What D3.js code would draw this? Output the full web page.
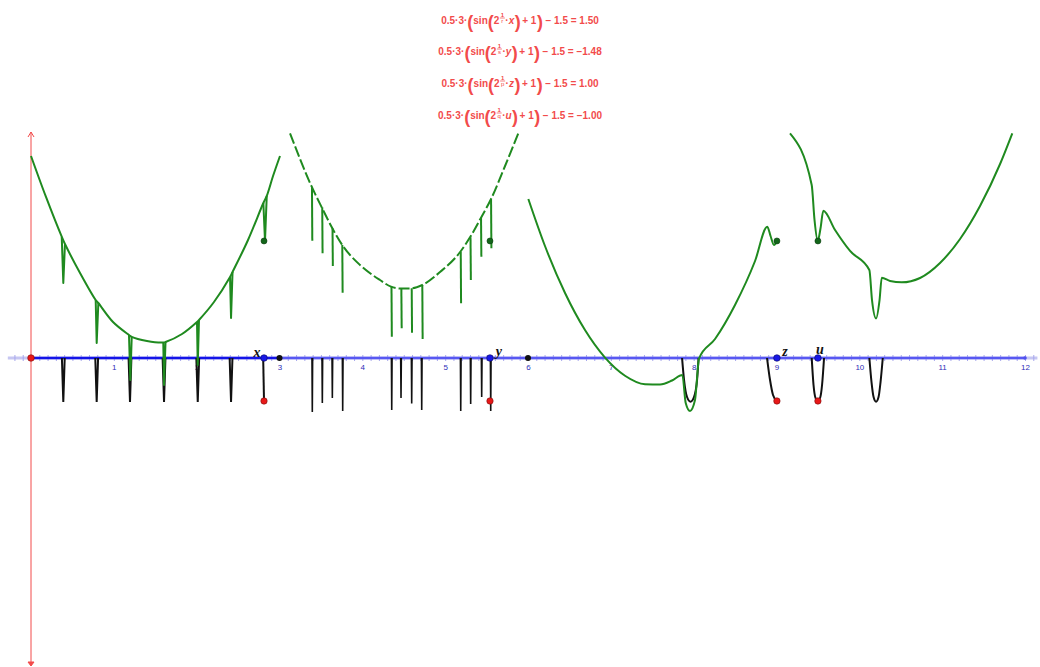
<!DOCTYPE html>
<html>
<head>
<meta charset="utf-8">
<script src="https://cdn.jsdelivr.net/npm/d3@7"></script>
<style>
  body { margin: 0; background: #fff; }
  svg { display: block; }
</style>
</head>
<body>
<svg id="chart" width="1040" height="667"></svg>
<script>
"use strict";

//// data (axis units)
const tickLabels = [1, 2, 3, 4, 5, 6, 7, 8, 9, 10, 11, 12];
const eqNames = ["x", "y", "z", "u"];
const eqDenoms = ["r", "s", "p", "q"];
const eqValues = ["1.50", "\u22121.48", "1.00", "\u22121.00"];

const pointX = [2.813, 5.541, 9.005, 9.500];   // x, y, z, u on the axis
const redY = -0.519;
const greenDotY = 1.413;
const blackPointX = [3, 6];

// green curve, first piece: smooth base + narrow spikes
const greenA = [
    [0, 2.439], [0.181, 1.944], [0.371, 1.464], [0.410, 1.376], [0.592, 1.026],
    [0.781, 0.700], [0.813, 0.664], [0.990, 0.435], [1.183, 0.278], [1.216, 0.254],
    [1.400, 0.205], [1.597, 0.187], [1.624, 0.193], [1.823, 0.290], [2.004, 0.435],
    [2.028, 0.459], [2.209, 0.676], [2.403, 0.978], [2.433, 1.038], [2.620, 1.425],
    [2.805, 1.871], [2.846, 1.956], [2.922, 2.197], [3.006, 2.439]
];
const greenASpikes = [
    [[0.371, 1.464], [0.390, 0.905], [0.410, 1.376]],
    [[0.781, 0.700], [0.793, 0.181], [0.813, 0.664]],
    [[1.183, 0.278], [1.199, -0.266], [1.216, 0.254]],
    [[1.597, 0.187], [1.606, -0.326], [1.624, 0.193]],
    [[2.004, 0.435], [2.013, -0.085], [2.028, 0.459]],
    [[2.403, 0.978], [2.415, 0.483], [2.433, 1.038]],
    [[2.805, 1.871], [2.825, 1.413], [2.846, 1.956]]
];

// green curve, second piece (dashed)
const greenB = [
    [3.127, 2.713], [3.389, 2.068], [3.510, 1.819], [3.638, 1.566], [3.758, 1.364],
    [3.972, 1.123], [4.213, 0.942], [4.346, 0.861], [4.467, 0.839], [4.596, 0.841],
    [4.724, 0.881], [4.938, 1.038], [5.183, 1.283], [5.300, 1.457], [5.433, 1.694],
    [5.554, 1.920], [5.723, 2.318], [5.883, 2.713]
];
// vertical green drops hanging from the dashed piece: [x, top, bottom]
const greenBSpikes = [
    [3.392, 2.068, 1.416], [3.516, 1.819, 1.264], [3.640, 1.566, 1.111], [3.758, 1.364, 0.788],
    [4.352, 0.861, 0.257], [4.471, 0.833, 0.359], [4.596, 0.841, 0.305], [4.724, 0.881, 0.229],
    [5.188, 1.283, 0.660], [5.306, 1.457, 0.942], [5.433, 1.694, 1.223], [5.554, 1.920, 1.324]
];

// green curve, third piece
const greenC = [
    [6.004, 1.920], [6.205, 1.352], [6.447, 0.785], [6.688, 0.338], [6.930, 0.005],
    [7.171, -0.214], [7.413, -0.316], [7.594, -0.320], [7.739, -0.272], [7.863, -0.205],
    [7.904, -0.543], [7.956, -0.640], [8.016, -0.507], [8.065, -0.004], [8.258, 0.229],
    [8.499, 0.640], [8.741, 1.171], [8.889, 1.585], [8.928, 1.473], [8.970, 1.364],
    [9.003, 1.413]
];

// green curve, fourth piece
const greenD = [
    [9.163, 2.713], [9.425, 2.089], [9.459, 1.666], [9.498, 1.413], [9.532, 1.569],
    [9.565, 1.778], [9.707, 1.545], [9.888, 1.292], [10.121, 1.062], [10.153, 0.700],
    [10.202, 0.479], [10.244, 0.700], [10.271, 0.969], [10.371, 0.930], [10.512, 0.914],
    [10.733, 0.966], [10.974, 1.147], [11.216, 1.437], [11.457, 1.835], [11.699, 2.342],
    [11.847, 2.713]
];

// black curve below the axis
const blackVX = [0.390, 0.793, 1.195, 1.606, 2.013, 2.415];
const blackVDepth = -0.531;
const blackDrops = [
    [3.396, -0.652], [3.517, -0.543], [3.638, -0.483], [3.763, -0.640],
    [4.355, -0.628], [4.467, -0.483], [4.596, -0.549], [4.717, -0.628],
    [5.188, -0.640], [5.308, -0.555], [5.441, -0.471], [5.550, -0.640]
];
const blackU1 = [[7.860, 0], [7.884, -0.266], [7.920, -0.471], [7.962, -0.528], [8.004, -0.471], [8.041, -0.266], [8.059, 0]];
const blackU2 = [[8.886, 0], [8.922, -0.266], [8.958, -0.447], [9.003, -0.519]];
const blackU3 = [[9.425, 0], [9.447, -0.326], [9.471, -0.483], [9.498, -0.519], [9.526, -0.483], [9.550, -0.326], [9.574, 0]];
const blackU4 = [[10.121, 0], [10.147, -0.290], [10.172, -0.471], [10.202, -0.528], [10.232, -0.471], [10.256, -0.290], [10.283, 0]];

(function () {
    const svg = d3.select("#chart");
    const green = "#1f8a1f", red = "#f24b4b";

    //// scales: same number of pixels per unit on both axes
    const x = d3.scaleLinear().domain([0, 12]).range([31, 1025]);
    const y = d3.scaleLinear().domain([0, 1]).range([358, 358 - 82.83]);

    const line = d3.line().x(d => x(d[0])).y(d => y(d[1]));
    const smooth = d3.line().x(d => x(d[0])).y(d => y(d[1])).curve(d3.curveMonotoneX);
    const round = d3.line().x(d => x(d[0])).y(d => y(d[1])).curve(d3.curveCatmullRom.alpha(0.5));

    //// red vertical axis with arrows
    const yTop = y.invert(132), yBot = y.invert(666);
    svg.append("line")
        .attr("x1", x(0)).attr("x2", x(0))
        .attr("y1", y(yTop)).attr("y2", y(yBot))
        .attr("stroke", red).attr("stroke-width", 1);
    svg.append("path")
        .attr("d", `M${x(0) - 3},${y(yTop) + 5}L${x(0)},${y(yTop)}L${x(0) + 3},${y(yTop) + 5}`)
        .attr("fill", "none").attr("stroke", red).attr("stroke-width", 1);
    svg.append("path")
        .attr("d", `M${x(0) - 3},${y(yBot) - 4}L${x(0)},${y(yBot)}L${x(0) + 3},${y(yBot) - 4}Z`)
        .attr("fill", red).attr("stroke", red).attr("stroke-width", 1);

    //// horizontal axis
    const axisG = svg.append("g").attr("transform", `translate(0,${y(0)})`);
    axisG.append("line")
        .attr("x1", x(-0.28)).attr("x2", x(12.15))
        .attr("stroke", "#c6c6f2").attr("stroke-width", 3);
    axisG.append("g")
        .call(d3.axisBottom(x).tickValues(d3.range(-2, 122).map(d => d / 10)).tickSize(3).tickFormat(""))
        .call(g => g.select(".domain").remove())
        .call(g => g.selectAll(".tick line").attr("y1", -3).attr("stroke", "#a8a8ec"));
    axisG.append("line")
        .attr("x1", x(3)).attr("x2", x(12))
        .attr("stroke", "#5858f2").attr("stroke-width", 2.5);
    axisG.append("line")
        .attr("x1", x(0)).attr("x2", x(3))
        .attr("stroke", "#1414e8").attr("stroke-width", 2.5);
    axisG.append("circle").attr("cx", x(12)).attr("r", 1.8).attr("fill", "#5050ee");
    axisG.append("g")
        .call(d3.axisBottom(x).tickValues(tickLabels).tickSize(0).tickPadding(6).tickFormat(d3.format("d")))
        .call(g => g.select(".domain").remove())
        .call(g => g.selectAll("text")
            .attr("fill", "#2e2eb8")
            .style("font-family", "'Liberation Sans', Arial, sans-serif")
            .style("font-size", "8px"));

    //// black curve
    const black = svg.append("g").attr("fill", "none").attr("stroke", "#111").attr("stroke-width", 2);
    black.selectAll(".v")
        .data(blackVX)
        .enter().append("path")
            .attr("d", d => line([[d - 0.017, 0], [d, blackVDepth], [d + 0.017, 0]]));
    black.append("path")
        .attr("d", line([[pointX[0] - 0.01, 0], [pointX[0], redY]]));
    black.selectAll(".drop")
        .data(blackDrops)
        .enter().append("path")
            .attr("stroke-width", 1.6)
            .attr("d", d => line([[d[0] - 0.004, 0], [d[0], d[1]], [d[0] + 0.004, 0]]));
    [blackU1, blackU2, blackU3, blackU4].forEach(function (u) {
        black.append("path").attr("d", smooth(u));
    });

    //// green curve
    const gc = svg.append("g").attr("fill", "none").attr("stroke", green).attr("stroke-width", 2)
        .attr("stroke-linejoin", "round");
    gc.append("path").attr("d", round(greenA));
    gc.selectAll(".aspike")
        .data(greenASpikes)
        .enter().append("path")
            .attr("d", d => line(d));
    gc.append("path").attr("d", smooth(greenB)).attr("stroke-dasharray", "11,3");
    gc.selectAll(".spike")
        .data(greenBSpikes)
        .enter().append("path")
            .attr("d", d => line([[d[0], d[1]], [d[0] + 0.004, d[2]]]));
    gc.append("path").attr("d", smooth(greenC));
    gc.append("path").attr("d", smooth(greenD));

    //// points
    svg.selectAll(".gdot")
        .data(pointX)
        .enter().append("circle")
            .attr("cx", d => x(d)).attr("cy", y(greenDotY)).attr("r", 3)
            .attr("fill", "#13661a").attr("stroke", "#0b3d0f").attr("stroke-width", 0.6);
    svg.selectAll(".rdot")
        .data(pointX)
        .enter().append("circle")
            .attr("cx", d => x(d)).attr("cy", y(redY)).attr("r", 3.2)
            .attr("fill", "#e81818").attr("stroke", "#7a0d0d").attr("stroke-width", 0.6);
    svg.selectAll(".kdot")
        .data(blackPointX)
        .enter().append("circle")
            .attr("cx", d => x(d)).attr("cy", y(0)).attr("r", 3)
            .attr("fill", "#111");
    svg.selectAll(".bdot")
        .data(pointX)
        .enter().append("circle")
            .attr("cx", d => x(d)).attr("cy", y(0)).attr("r", 3.3)
            .attr("fill", "#1818e6").attr("stroke", "#0a0a60").attr("stroke-width", 0.6);
    svg.append("circle")
        .attr("cx", x(0)).attr("cy", y(0)).attr("r", 3.3)
        .attr("fill", "#e81818").attr("stroke", "#7a0d0d").attr("stroke-width", 0.6);

    const labelOffset = [[-7, -6], [9, -7], [8, -7], [2, -9]];
    svg.selectAll(".plabel")
        .data(eqNames)
        .enter().append("text")
            .attr("x", (d, i) => x(pointX[i]) + labelOffset[i][0])
            .attr("y", (d, i) => y(0) + labelOffset[i][1])
            .attr("text-anchor", "middle")
            .attr("dominant-baseline", "central")
            .style("font-family", "'Liberation Serif', 'DejaVu Serif', serif")
            .style("font-style", "italic")
            .style("font-weight", "bold")
            .style("font-size", "14px")
            .attr("fill", "#111")
            .text(d => d);

    //// equations on top
    const eqBase = [24, 55, 87, 119];
    const eqG = svg.append("g")
        .style("font-family", "'Liberation Sans', Arial, sans-serif")
        .style("font-weight", "bold")
        .attr("fill", red);

    eqNames.forEach(function (name, i) {
        const g = eqG.append("g");
        let cx = 0;
        function put(txt, size, dy, italic, gap) {
            const t = g.append("text").attr("x", cx).attr("y", dy).style("font-size", size + "px").text(txt);
            if (italic) t.style("font-style", "italic");
            cx += t.node().getComputedTextLength() + (gap || 0);
            return t;
        }
        put("0.5\u00b73\u00b7", 10, 0);
        put("(", 18, 3.5);
        put("sin", 10, 0);
        put("(", 18, 3.5);
        put("2", 10, 0);
        const fx = cx + 0.5;
        g.append("text").attr("x", fx + 2.5).attr("y", -7.5).attr("text-anchor", "middle")
            .style("font-size", "6px").text("1");
        g.append("line").attr("x1", fx).attr("x2", fx + 5).attr("y1", -6).attr("y2", -6)
            .attr("stroke", red).attr("stroke-width", 0.7);
        g.append("text").attr("x", fx + 2.5).attr("y", -1).attr("text-anchor", "middle")
            .style("font-size", "6px").style("font-weight", "normal").text(eqDenoms[i]);
        cx += 6;
        put("\u00b7", 10, 0);
        put(name, 10, 0, true, 0.5);
        put(")", 18, 3.5, false, 1.5);
        put("+ 1", 10, 0, false, 0.5);
        put(")", 18, 3.5, false, 2.5);
        put("\u2212 1.5 = " + eqValues[i], 10, 0);
        g.attr("transform", `translate(${520 - cx / 2},${eqBase[i]})`);
    });
})();
</script>
</body>
</html>
